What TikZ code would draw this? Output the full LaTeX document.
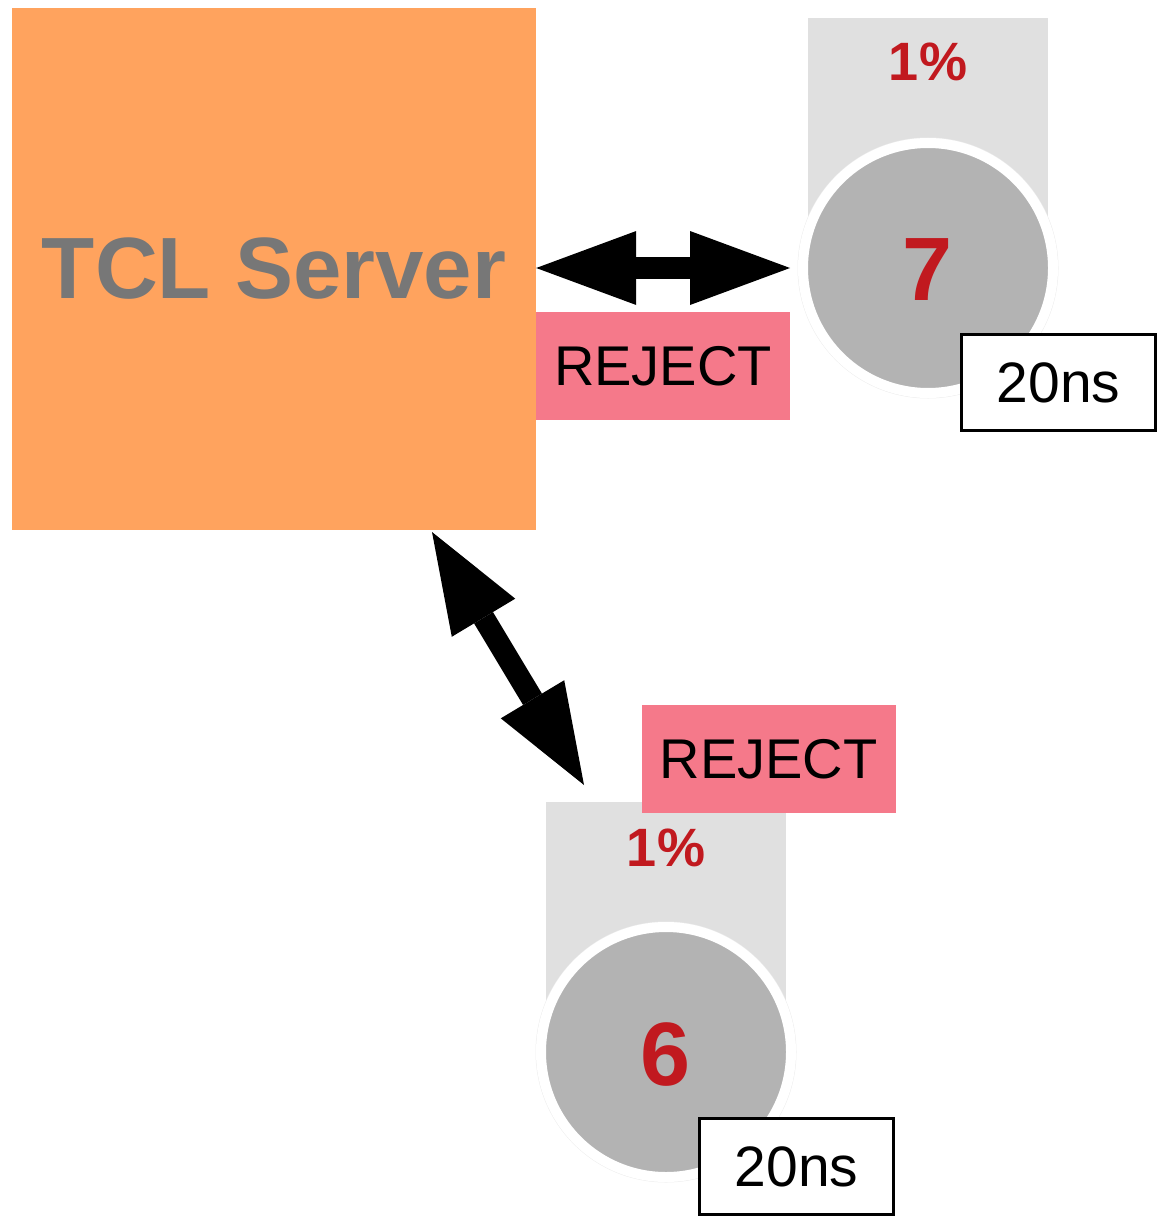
\documentclass[tikz,border=0pt]{standalone}
\usepackage{fontspec}
\setmainfont{Liberation Sans}
\usetikzlibrary{arrows.meta}
\definecolor{serverorange}{HTML}{FFA35E}
\definecolor{servertext}{HTML}{777777}
\definecolor{idred}{HTML}{C1191F}
\definecolor{rejectpink}{HTML}{F5798A}
\definecolor{barGray}{HTML}{E0E0E0}
\definecolor{discGray}{HTML}{B3B3B3}
\definecolor{ringEdge}{HTML}{EDEDED}
\tikzset{
  server/.style={rectangle, fill=serverorange, inner sep=0pt, minimum width=524pt, minimum height=522pt,
    font=\fontsize{87}{90}\selectfont\bfseries, text=servertext},
  loadbar/.style={rectangle, fill=barGray, inner sep=0pt, minimum width=240pt, minimum height=250pt},
  disc/.style={circle, fill=discGray, draw=white, line width=10pt, minimum size=250pt, inner sep=0pt},
  discedge/.style={draw=ringEdge, line width=1pt},
  pct/.style={font=\fontsize{54}{56}\selectfont\bfseries, text=idred, inner sep=0pt},
  nodeid/.style={font=\fontsize{90}{92}\selectfont\bfseries, text=idred, inner sep=0pt},
  latency/.style={rectangle, draw=black, fill=white, line width=3pt, minimum width=194pt, minimum height=96pt,
    inner sep=0pt, font=\fontsize{57}{60}\selectfont},
  reject/.style={rectangle, fill=rejectpink, inner sep=0pt, minimum width=254pt, minimum height=108pt,
    font=\fontsize{56}{60}\selectfont},
  link/.style={line width=22pt, {Triangle[length=100pt,width=74pt,line width=0pt]}-{Triangle[length=100pt,width=74pt,line width=0pt]}}
}
\begin{document}
\begin{tikzpicture}[x=1pt,y=-1pt]
\useasboundingbox (0,0) rectangle (1167,1217);

% server block
\node[server] (server) at (274,269) {TCL Server};

% node 7
\node[loadbar] (bar7) at (928,143) {};
\draw[discedge] (928,268) circle (130);
\node[disc] (c7) at (928,268) {};
\node[pct] (pct7) at (928,62) {1\%};
\node[nodeid] (id7) at (928,270) {7};
\node[latency] (lat7) at (1058.5,382.5) {20ns};
\node[reject] (rej7) at (663,366) {REJECT};

% node 6
\node[loadbar] (bar6) at (666,927) {};
\draw[discedge] (666,1052) circle (130);
\node[disc] (c6) at (666,1052) {};
\node[pct] (pct6) at (666,848) {1\%};
\node[nodeid] (id6) at (666,1055) {6};
\node[latency] (lat6) at (796.5,1166.5) {20ns};
\node[reject] (rej6) at (768.5,759) {REJECT};

% links
\coordinate (s7) at (server.east |- c7);
\coordinate (e7) at ([xshift=-8pt]c7.west);
\draw[link] (s7) -- (e7);
\coordinate (s6) at (432,532);
\coordinate (e6) at (584,785);
\draw[link] (s6) -- (e6);
\end{tikzpicture}
\end{document}
